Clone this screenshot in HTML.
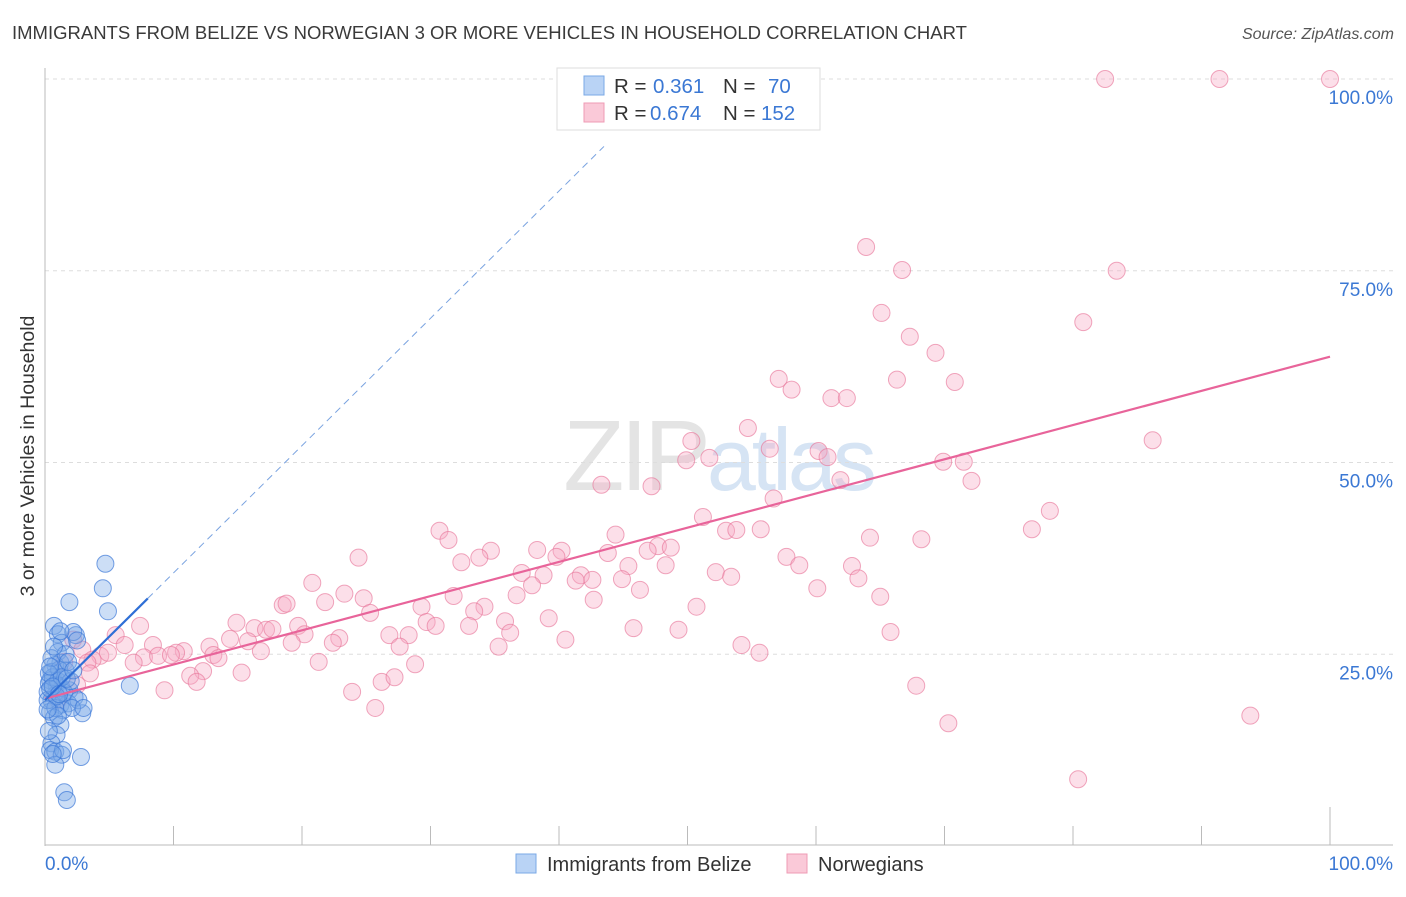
<!DOCTYPE html>
<html><head><meta charset="utf-8"><style>
body{margin:0;background:#fff;font-family:"Liberation Sans",sans-serif}
svg text{font-family:"Liberation Sans",sans-serif}
</style></head><body>
<svg id="chart" width="1406" height="892" xmlns="http://www.w3.org/2000/svg">
<text x="12" y="39" font-size="18.5" fill="#3a3a3a">IMMIGRANTS FROM BELIZE VS NORWEGIAN 3 OR MORE VEHICLES IN HOUSEHOLD CORRELATION CHART</text>
<text x="1394" y="39" font-size="16" fill="#555" font-style="italic" text-anchor="end">Source: ZipAtlas.com</text>
<text x="718" y="490" font-size="100" text-anchor="middle" fill="#e4e4e4" font-family="Liberation Serif" letter-spacing="-4">ZIP<tspan font-family="Liberation Sans" font-size="88" fill="#d6e4f4">atlas</tspan></text>
<g id="grid"></g>
<g id="axes"></g>
<g id="pink"></g>
<g id="blue"></g>
<g id="lines"></g>
<text transform="translate(34,456) rotate(-90)" font-size="19.5" fill="#333" text-anchor="middle">3 or more Vehicles in Household</text>
<text x="45" y="870" font-size="19" fill="#3b78d4">0.0%</text>
<text x="1393" y="870" font-size="19" fill="#3b78d4" text-anchor="end">100.0%</text>
<g>
<rect x="557" y="68" width="263" height="62" fill="#fff" stroke="#ddd"/>
<rect x="584" y="76" width="20" height="19" fill="#b9d3f5" stroke="#7aa8e6"/>
<rect x="584" y="103" width="20" height="19" fill="#fac9d8" stroke="#ef9bb5"/>
<text x="614" y="93" font-size="20.5" fill="#333">R = <tspan x="653" fill="#3b78d4">0.361</tspan><tspan x="723">N =</tspan><tspan x="768" fill="#3b78d4">70</tspan></text>
<text x="614" y="120" font-size="20.5" fill="#333">R = <tspan x="650" fill="#3b78d4">0.674</tspan><tspan x="723">N =</tspan><tspan x="761" fill="#3b78d4">152</tspan></text>
</g>
<g>
<rect x="516" y="854" width="20" height="19" fill="#b9d3f5" stroke="#7aa8e6"/>
<text x="547" y="871" font-size="20" fill="#333">Immigrants from Belize</text>
<rect x="787" y="854" width="20" height="19" fill="#fac9d8" stroke="#ef9bb5"/>
<text x="818" y="871" font-size="20" fill="#333">Norwegians</text>
</g>
</svg>
<script>
const yTicks=[25,50,75,100];
const yTickLabels=["25.0%","50.0%","75.0%","100.0%"];
const xTicks=[10,20,30,40,50,60,70,80,90,100];
const pinkX=[82.5,91.4,100,63.9,66.7,83.4,65.1,80.8,67.3,69.3,57.1,66.3,70.8,58.1,61.2,62.4,54.7,86.2,50.3,56.4,60.2,60.9,49.9,51.7,69.9,71.5,61.9,72.1,43.3,47.2,56.7,51.2,78.2,76.8,30.7,53.0,53.8,55.7,44.4,31.4,64.2,68.2,34.7,38.3,40.2,47.7,48.7,46.9,43.8,24.4,33.8,39.8,57.7,58.7,45.4,62.8,48.3,32.4,37.1,38.8,41.7,52.2,53.4,63.3,41.3,42.6,44.9,20.8,37.9,46.3,60.1,23.3,24.8,31.8,36.7,65.0,42.7,21.8,18.5,18.8,29.3,34.2,50.7,25.3,33.4,39.2,35.8,29.7,30.4,33.0,7.4,14.9,16.3,17.2,17.7,19.7,45.8,49.3,65.8,5.5,20.2,26.8,28.3,36.2,22.9,14.4,15.8,22.4,40.5,2.2,6.2,8.4,12.8,27.6,19.2,54.2,35.3,2.9,10.8,10.2,16.8,55.6,4.3,4.9,7.7,8.8,9.8,13.1,13.5,3.7,3.3,21.3,6.9,28.8,12.3,15.3,11.3,11.8,26.2,27.2,9.3,23.9,67.8,25.7,93.8,70.3,80.4,1.5,2.5,3.5,1.0];
const pinkY=[100,100,100,78.1,75.1,75.0,69.5,68.3,66.4,64.3,60.9,60.8,60.5,59.5,58.4,58.4,54.5,52.9,52.8,51.8,51.5,50.7,50.3,50.6,50.1,50.1,47.7,47.6,47.1,46.9,45.3,42.9,43.7,41.3,41.1,41.1,41.2,41.3,40.6,39.9,40.2,40.0,38.5,38.6,38.5,39.1,38.9,38.5,38.2,37.6,37.6,37.7,37.7,36.6,36.5,36.5,36.6,37.0,35.6,35.3,35.3,35.7,35.1,34.9,34.6,34.7,34.8,34.3,34.0,33.4,33.6,32.9,32.3,32.6,32.7,32.5,32.1,31.8,31.4,31.6,31.2,31.2,31.2,30.4,30.6,29.7,29.3,29.2,28.7,28.7,28.7,29.1,28.4,28.2,28.3,28.7,28.4,28.2,27.9,27.5,27.6,27.5,27.5,27.8,27.1,27.0,26.7,26.5,26.9,26.9,26.2,26.2,26.0,26.0,26.5,26.2,26.0,25.6,25.4,25.2,25.4,25.2,24.8,25.2,24.6,24.8,24.9,24.9,24.5,24.3,23.9,24.0,23.9,23.7,22.8,22.6,22.2,21.4,21.4,22.0,20.3,20.1,20.9,18.0,17.0,16.0,8.7,24.0,21.0,22.5,19.0];
const blueX=[4.7,4.5,4.9,1.9,6.6,0.7,1.0,2.4,2.2,1.3,1.0,1.2,0.8,0.5,1.6,0.4,0.9,1.3,1.9,0.2,0.8,2.3,0.5,1.2,1.8,1.4,0.4,2.9,0.7,1.2,0.9,0.5,0.4,0.8,1.3,2.8,0.8,1.5,1.7,0.3,0.6,1.0,1.5,0.2,0.8,1.1,0.5,1.6,2.0,0.3,0.9,1.3,0.4,2.6,1.8,0.7,2.1,1.0,0.3,1.4,0.6,1.2,2.5,3.0,0.6,1.1,0.2,1.7,0.4,2.2];
const blueY=[36.8,33.6,30.6,31.8,20.9,28.7,27.6,27.5,27.9,26.5,25.3,23.9,23.6,22.7,22.9,21.6,21.0,20.6,20.3,20.1,19.7,19.4,19.0,18.4,18.6,17.7,17.5,17.3,16.7,15.8,14.5,13.4,12.5,12.3,11.9,11.6,10.6,7.0,6.0,21.2,22.0,21.5,20.0,19.0,18.0,23.0,24.5,25.0,21.5,22.5,19.5,22.0,20.5,19.0,24.0,26.0,18.0,17.0,15.0,12.5,12.0,28.0,26.8,18.0,20.8,19.8,17.8,21.8,23.4,22.9];
const pinkTrend=[19.2,63.8];
const blueTrend=[19.0,1.66];
const NS="http://www.w3.org/2000/svg";
const X0=45,X1=1330,Y0=846,Y100=79;
const sx=v=>X0+(X1-X0)*v/100;
const sy=v=>Y0-(Y0-Y100)*v/100;
function mk(tag,attrs,parent){const e=document.createElementNS(NS,tag);for(const k in attrs)e.setAttribute(k,attrs[k]);parent.appendChild(e);return e;}
const grid=document.getElementById('grid');
yTicks.forEach((t,i)=>{
 const l=mk('line',{x1:X0,x2:1393,y1:sy(t),y2:sy(t),stroke:'#ddd','stroke-dasharray':'4,4'},grid);
 
 
 const tx=mk('text',{x:1393,y:sy(t)+25,'font-size':19,fill:'#3b78d4','text-anchor':'end'},grid);
 tx.textContent=yTickLabels[i];
 
 
});
const axes=document.getElementById('axes');
const ya=mk('line',{x1:X0,x2:X0,y1:68,y2:Y0,stroke:'#bbb'},axes);


const xa=mk('line',{x1:X0,x2:1393,y1:Y0-1,y2:Y0-1,stroke:'#bbb'},axes);


xTicks.forEach(t=>{
 const tk=mk('line',{x1:sx(t),x2:sx(t),y1:t===100?807:826,y2:Y0-1,stroke:'#bbb'},axes);
 
 
});
const pg=document.getElementById('pink');
pinkX.forEach((x,i)=>{
 const c=mk('circle',{cx:sx(x),cy:sy(pinkY[i]),r:8.5,fill:'rgba(246,172,196,0.38)',stroke:'rgba(232,120,155,0.65)','stroke-width':1},pg);
 
 
});
const bg=document.getElementById('blue');
blueX.forEach((x,i)=>{
 const c=mk('circle',{cx:sx(x),cy:sy(blueY[i]),r:8.5,fill:'rgba(120,168,232,0.38)',stroke:'rgba(60,120,215,0.7)','stroke-width':1},bg);
 
 
});
const lg=document.getElementById('lines');
const pl=mk('line',{x1:sx(0),y1:sy(pinkTrend[0]),x2:sx(100),y2:sy(pinkTrend[1]),stroke:'#e8649a','stroke-width':2.2},lg);


const bs=mk('line',{x1:sx(0),y1:sy(blueTrend[0]),x2:sx(8),y2:sy(blueTrend[0]+blueTrend[1]*8),stroke:'#2f6fd6','stroke-width':2.2},lg);


const bd=mk('line',{x1:sx(8),y1:sy(blueTrend[0]+blueTrend[1]*8),x2:sx(43.5),y2:sy(blueTrend[0]+blueTrend[1]*43.5),stroke:'#7aa3e0','stroke-width':1,'stroke-dasharray':'7,5'},lg);


</script>
</body></html>
